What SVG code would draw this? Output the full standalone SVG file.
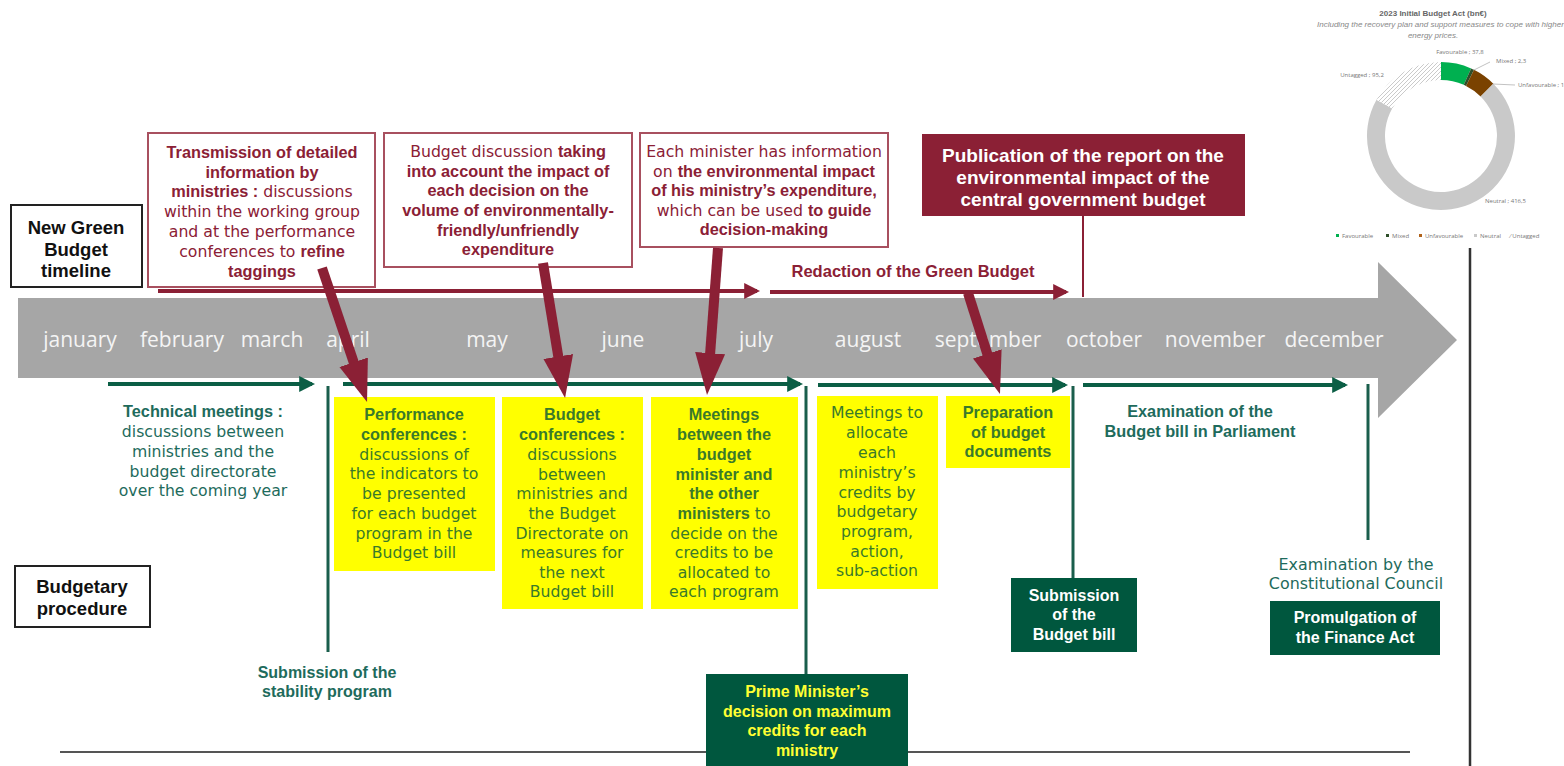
<svg xmlns="http://www.w3.org/2000/svg" width="1564" height="766" viewBox="0 0 1564 766">
<style>
text{font-family:"Liberation Sans",Arial,sans-serif;}
.r{font-family:"DejaVu Sans",sans-serif;font-size:15.7px;font-weight:normal;}
.B{font-family:"Liberation Sans",Arial,sans-serif;font-size:16.3px;font-weight:bold;}
.mid{text-anchor:middle;}
.lbl{font-size:18.5px;font-weight:bold;fill:#111;text-anchor:middle;}
.mr{fill:#8b2035;}
.gt{fill:#1e6b5c;}
.yt{fill:#3a7a2a;}
.wb{font-size:19px;font-weight:bold;fill:#fff;text-anchor:middle;}
.mon{font-family:"Open Sans",sans-serif;font-size:21px;fill:#f4f4f4;text-anchor:middle;}
.dg{font-size:16px;font-weight:bold;fill:#fff;text-anchor:middle;}
.pm{font-size:16px;font-weight:bold;fill:#ffff33;text-anchor:middle;}
.mbox{fill:#fff;stroke:#a8505f;stroke-width:2;}
.ybox{fill:#ffff00;}
.dbox{fill:#00573e;}
.gl{stroke:#0b5e45;stroke-width:4;fill:none;}
.gv{stroke:#1a5e4c;stroke-width:3;fill:none;}
.ml{stroke:#8b2035;stroke-width:4;fill:none;}
.thick{stroke:#8b2035;stroke-width:10;fill:none;}
.ch{font-family:"Open Sans",sans-serif;font-size:6px;fill:#777;}
</style>
<defs>
<marker id="ga" viewBox="0 0 10 10" refX="8" refY="5" markerWidth="4" markerHeight="4" orient="auto"><path d="M0,0 L10,5 L0,10 z" fill="#0b5e45"/></marker>
<marker id="ma" viewBox="0 0 10 10" refX="8" refY="5" markerWidth="4" markerHeight="4" orient="auto"><path d="M0,0 L10,5 L0,10 z" fill="#8b2035"/></marker>
<marker id="big" markerUnits="userSpaceOnUse" viewBox="0 -16 44 32" refX="2" refY="0" markerWidth="44" markerHeight="32" orient="auto"><path d="M0,-15 L42,0 L0,15 z" fill="#8b2035"/></marker>
<pattern id="hatch" patternUnits="userSpaceOnUse" width="4" height="4"><rect width="4" height="4" fill="#fff"/><path d="M-1,1 l2,-2 M0,4 l4,-4 M3,5 l2,-2" stroke="#bdbdbd" stroke-width="0.8"/></pattern>
</defs>

<rect width="1564" height="766" fill="#fff"/>

<g id="timeline">
<polygon points="18,298 1378,298 1378,262 1457,340 1378,418 1378,378 18,378" fill="#a6a6a6"/>
<text class="mon" x="80" y="347">january</text>
<text class="mon" x="182" y="347">february</text>
<text class="mon" x="272" y="347">march</text>
<text class="mon" x="348" y="347">april</text>
<text class="mon" x="487" y="347">may</text>
<text class="mon" x="623" y="347">june</text>
<text class="mon" x="756" y="347">july</text>
<text class="mon" x="868" y="347">august</text>
<text class="mon" x="988" y="347">september</text>
<text class="mon" x="1104" y="347">october</text>
<text class="mon" x="1215" y="347">november</text>
<text class="mon" x="1334" y="347">december</text>
</g>

<g id="frame-lines">
<line x1="60" y1="752" x2="1410" y2="752" stroke="#555" stroke-width="2"/>
<line x1="1470" y1="248" x2="1470" y2="766" stroke="#333" stroke-width="2.5"/>
</g>

<g id="connectors">
<line class="ml" x1="158" y1="291" x2="757" y2="291" marker-end="url(#ma)"/>
<line class="ml" x1="770" y1="292" x2="1066" y2="292" marker-end="url(#ma)"/>
<line stroke="#8b2035" stroke-width="2" x1="1083" y1="216" x2="1083" y2="297"/>
<line class="gl" x1="108" y1="384" x2="312" y2="384" marker-end="url(#ga)"/>
<line class="gl" x1="343" y1="384" x2="800" y2="384" marker-end="url(#ga)"/>
<line class="gl" x1="818" y1="385" x2="1065" y2="385" marker-end="url(#ga)"/>
<line class="gl" x1="1083" y1="385" x2="1345" y2="385" marker-end="url(#ga)"/>
<line class="gv" x1="328" y1="386" x2="328" y2="652"/>
<line class="gv" x1="806" y1="386" x2="806" y2="675"/>
<line class="gv" x1="1073" y1="386" x2="1073" y2="578"/>
<line class="gv" x1="1368" y1="384" x2="1368" y2="540"/>
</g>

<g id="n-green-label">
<rect x="11" y="205" width="131" height="82" fill="#fff" stroke="#222" stroke-width="2"/>
<text class="lbl" x="76" y="234">New Green</text>
<text class="lbl" x="76" y="256">Budget</text>
<text class="lbl" x="76" y="277">timeline</text>
</g>
<g id="n-budgetary-label">
<rect x="15" y="566" width="135" height="61" fill="#fff" stroke="#222" stroke-width="2"/>
<text class="lbl" x="82" y="593">Budgetary</text>
<text class="lbl" x="82" y="615">procedure</text>
</g>

<g id="n-transmission" class="mr">
<rect class="mbox" x="148" y="133" width="227" height="154"/>
<text class="B mid mr" x="262" y="158">Transmission of detailed</text>
<text class="B mid mr" x="262" y="178">information by</text>
<text class="r mid mr" x="262" y="197"><tspan class="B">ministries :</tspan> discussions</text>
<text class="r mid mr" x="262" y="217">within the working group</text>
<text class="r mid mr" x="262" y="237">and at the performance</text>
<text class="r mid mr" x="262" y="257">conferences to <tspan class="B">refine</tspan></text>
<text class="B mid mr" x="262" y="277">taggings</text>
</g>
<g id="n-discussion">
<rect class="mbox" x="384" y="133" width="248" height="134"/>
<text class="r mid mr" x="508" y="157">Budget discussion <tspan class="B">taking</tspan></text>
<text class="B mid mr" x="508" y="177">into account the impact of</text>
<text class="B mid mr" x="508" y="196">each decision on the</text>
<text class="B mid mr" x="508" y="216">volume of environmentally-</text>
<text class="B mid mr" x="508" y="236">friendly/unfriendly</text>
<text class="B mid mr" x="508" y="255">expenditure</text>
</g>
<g id="n-minister-info">
<rect class="mbox" x="640" y="133" width="248" height="114"/>
<text class="r mid mr" x="764" y="157">Each minister has information</text>
<text class="r mid mr" x="764" y="177">on <tspan class="B">the environmental impact</tspan></text>
<text class="B mid mr" x="764" y="196">of his ministry’s expenditure,</text>
<text class="r mid mr" x="764" y="216">which can be used <tspan class="B">to guide</tspan></text>
<text class="B mid mr" x="764" y="235">decision-making</text>
</g>
<g id="n-publication">
<rect x="922" y="134" width="323" height="82" fill="#8b2035"/>
<text class="wb" x="1083" y="162">Publication of the report on the</text>
<text class="wb" x="1083" y="184">environmental impact of the</text>
<text class="wb" x="1083" y="206">central government budget</text>
</g>
<g id="n-redaction">
<text x="913" y="277" font-size="16.5" font-weight="bold" fill="#8b2035" text-anchor="middle">Redaction of the Green Budget</text>
</g>

<g id="n-technical">
<text class="B mid gt" x="203" y="417">Technical meetings :</text>
<text class="r mid gt" x="203" y="437">discussions between</text>
<text class="r mid gt" x="203" y="457">ministries and the</text>
<text class="r mid gt" x="203" y="477">budget directorate</text>
<text class="r mid gt" x="203" y="496">over the coming year</text>
</g>

<g id="n-performance">
<rect class="ybox" x="334" y="397" width="161" height="174"/>
<text class="B mid yt" x="414" y="420">Performance</text>
<text class="B mid yt" x="414" y="440">conferences :</text>
<text class="r mid yt" x="414" y="460">discussions of</text>
<text class="r mid yt" x="414" y="479">the indicators to</text>
<text class="r mid yt" x="414" y="499">be presented</text>
<text class="r mid yt" x="414" y="519">for each budget</text>
<text class="r mid yt" x="414" y="539">program in the</text>
<text class="r mid yt" x="414" y="558">Budget bill</text>
</g>
<g id="n-budget-conf">
<rect class="ybox" x="502" y="397" width="141" height="212"/>
<text class="B mid yt" x="572" y="420">Budget</text>
<text class="B mid yt" x="572" y="440">conferences :</text>
<text class="r mid yt" x="572" y="460">discussions</text>
<text class="r mid yt" x="572" y="480">between</text>
<text class="r mid yt" x="572" y="499">ministries and</text>
<text class="r mid yt" x="572" y="519">the Budget</text>
<text class="r mid yt" x="572" y="539">Directorate on</text>
<text class="r mid yt" x="572" y="558">measures for</text>
<text class="r mid yt" x="572" y="578">the next</text>
<text class="r mid yt" x="572" y="597">Budget bill</text>
</g>
<g id="n-meetings-ministers">
<rect class="ybox" x="651" y="397" width="147" height="212"/>
<text class="B mid yt" x="724" y="420">Meetings</text>
<text class="B mid yt" x="724" y="440">between the</text>
<text class="B mid yt" x="724" y="460">budget</text>
<text class="B mid yt" x="724" y="480">minister and</text>
<text class="B mid yt" x="724" y="499">the other</text>
<text class="r mid yt" x="724" y="519"><tspan class="B">ministers</tspan> to</text>
<text class="r mid yt" x="724" y="539">decide on the</text>
<text class="r mid yt" x="724" y="558">credits to be</text>
<text class="r mid yt" x="724" y="578">allocated to</text>
<text class="r mid yt" x="724" y="597">each program</text>
</g>
<g id="n-allocate">
<rect class="ybox" x="817" y="396" width="121" height="193"/>
<text class="r mid yt" x="877" y="418">Meetings to</text>
<text class="r mid yt" x="877" y="438">allocate</text>
<text class="r mid yt" x="877" y="458">each</text>
<text class="r mid yt" x="877" y="478">ministry’s</text>
<text class="r mid yt" x="877" y="498">credits by</text>
<text class="r mid yt" x="877" y="517">budgetary</text>
<text class="r mid yt" x="877" y="537">program,</text>
<text class="r mid yt" x="877" y="557">action,</text>
<text class="r mid yt" x="877" y="576">sub-action</text>
</g>
<g id="n-preparation">
<rect class="ybox" x="946" y="396" width="124" height="72"/>
<text class="B mid yt" x="1008" y="418">Preparation</text>
<text class="B mid yt" x="1008" y="438">of budget</text>
<text class="B mid yt" x="1008" y="457">documents</text>
</g>
<g id="n-parliament">
<text class="B mid gt" x="1200" y="417">Examination of the</text>
<text class="B mid gt" x="1200" y="437">Budget bill in Parliament</text>
</g>
<g id="n-stability">
<text class="B mid gt" x="327" y="678" style="font-size:16px">Submission of the</text>
<text class="B mid gt" x="327" y="697" style="font-size:16px">stability program</text>
</g>
<g id="n-pm">
<rect class="dbox" x="706" y="674" width="202" height="92"/>
<text class="pm" x="807" y="697">Prime Minister’s</text>
<text class="pm" x="807" y="717">decision on maximum</text>
<text class="pm" x="807" y="736">credits for each</text>
<text class="pm" x="807" y="756">ministry</text>
</g>
<g id="n-submission-bill">
<rect class="dbox" x="1011" y="578" width="126" height="74"/>
<text class="dg" x="1074" y="601">Submission</text>
<text class="dg" x="1074" y="620">of the</text>
<text class="dg" x="1074" y="640">Budget bill</text>
</g>
<g id="n-constitutional">
<text class="r mid gt" x="1356" y="570" style="font-size:15.9px">Examination by the</text>
<text class="r mid gt" x="1356" y="589" style="font-size:15.9px">Constitutional Council</text>
</g>
<g id="n-promulgation">
<rect class="dbox" x="1270" y="601" width="170" height="54"/>
<text class="dg" x="1355" y="623">Promulgation of</text>
<text class="dg" x="1355" y="643">the Finance Act</text>
</g>

<g id="impact-arrows">
<line class="thick" x1="322" y1="268" x2="354.3" y2="364.1" marker-end="url(#big)"/>
<line class="thick" x1="543" y1="263" x2="558.6" y2="358.5" marker-end="url(#big)"/>
<line class="thick" x1="718" y1="248" x2="710" y2="355.1" marker-end="url(#big)"/>
<line class="thick" x1="968" y1="293" x2="987.9" y2="355.8" marker-end="url(#big)"/>
</g>

<g id="n-chart">
<text x="1433" y="16" font-family="Open Sans" font-size="8" font-weight="bold" fill="#666" text-anchor="middle">2023 Initial Budget Act (bn€)</text>
<text x="1317" y="27" font-family="Open Sans" font-size="8" font-style="italic" fill="#888">Including the recovery plan and support measures to cope with higher</text>
<text x="1433" y="38" font-family="Open Sans" font-size="8" font-style="italic" fill="#888" text-anchor="middle">energy prices.</text>
<path d="M1441,62 A74,74 0 0 1 1471.1,68.4 L1463.8,84.8 A56,56 0 0 0 1441,80 Z" fill="#00b050"/>
<path d="M1471.1,68.4 A74,74 0 0 1 1474.0,69.8 L1466.0,85.9 L1463.8,84.8 Z" fill="#2e4f2a"/>
<path d="M1474.0,69.8 A74,74 0 0 1 1493.3,83.7 L1480.6,96.4 A56,56 0 0 0 1466.0,85.9 Z" fill="#7a4200"/>
<path d="M1493.3,83.7 A74,74 0 1 1 1376.5,99.7 L1392.2,108.5 A56,56 0 1 0 1480.6,96.4 Z" fill="#c9c9c9"/>
<path d="M1376.5,99.7 A74,74 0 0 1 1441,62 L1441,80 A56,56 0 0 0 1392.2,108.5 Z" fill="url(#hatch)"/>
<text class="ch" x="1460" y="54" text-anchor="middle">Favourable ; 37,8</text>
<line x1="1474" y1="70" x2="1490" y2="62" stroke="#999" stroke-width="0.6"/>
<text class="ch" x="1496" y="63">Mixed ; 2,3</text>
<line x1="1493" y1="84" x2="1515" y2="85" stroke="#999" stroke-width="0.6"/>
<text class="ch" x="1518" y="87">Unfavourable ; 1</text>
<text class="ch" x="1362" y="77" text-anchor="middle">Untagged ; 95,2</text>
<text class="ch" x="1485" y="203">Neutral ; 416,5</text>
<rect x="1336" y="234" width="3" height="3" fill="#00b050"/>
<text class="ch" x="1342" y="238">Favourable</text>
<rect x="1386" y="234" width="3" height="3" fill="#2e4f2a"/>
<text class="ch" x="1392" y="238">Mixed</text>
<rect x="1419" y="234" width="3" height="3" fill="#b0621a"/>
<text class="ch" x="1425" y="238">Unfavourable</text>
<rect x="1474" y="234" width="3" height="3" fill="#c9c9c9"/>
<text class="ch" x="1480" y="238">Neutral</text>
<text class="ch" x="1510" y="238">⁄ Untagged</text>
</g>
</svg>
